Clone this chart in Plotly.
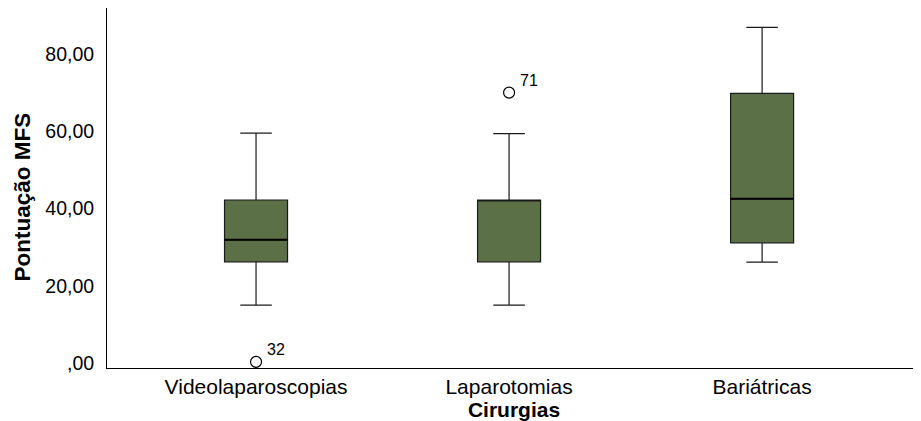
import plotly.graph_objects as go

categories = ["Videolaparoscopias", "Laparotomias", "Bariátricas"]
lower_whisker = [15.0, 15.0, 26.1]
q1 = [26.2, 26.2, 31.1]
median = [31.9, 42.2, 42.5]
q3 = [42.2, 42.2, 69.8]
upper_whisker = [59.5, 59.4, 86.9]
outlier_cat = [0, 1]
outlier_val = [0.3, 70.0]
outlier_lab = ["32", "71"]
y_ticks = [0, 20, 40, 60, 80]
y_ticktext = [",00", "20,00", "40,00", "60,00", "80,00"]

fill = "#5b7046"
pos = list(range(len(categories)))
FONT = "Liberation Sans, Arial"
BW = 0.249

fig = go.Figure()
fig.add_trace(go.Box(
    x=pos, q1=q1, median=median, q3=q3,
    lowerfence=lower_whisker, upperfence=upper_whisker,
    fillcolor=fill, line=dict(color="#1a1a1a", width=1.2),
    width=BW, whiskerwidth=0.5, boxpoints=False, showlegend=False,
    hoverinfo="skip",
))
for i, m in enumerate(median):
    if m == q1[i] or m == q3[i]:
        continue  # median coincides with a hinge: not drawn separately
    fig.add_trace(go.Scatter(
        x=[pos[i] - BW / 2, pos[i] + BW / 2], y=[m, m], mode="lines",
        line=dict(color="black", width=2), showlegend=False, hoverinfo="skip",
    ))
fig.add_trace(go.Scatter(
    x=outlier_cat, y=outlier_val, mode="markers",
    marker=dict(symbol="circle-open", size=11, color="black", line=dict(width=1.2)),
    showlegend=False, hoverinfo="skip", cliponaxis=False,
))
for cx, cy, lab in zip(outlier_cat, outlier_val, outlier_lab):
    fig.add_annotation(
        x=cx, y=cy, text=lab, showarrow=False, xanchor="left", yanchor="middle",
        xshift=9, yshift=12, font=dict(family=FONT, size=16, color="black"),
    )

fig.add_annotation(
    xref="paper", yref="paper", x=-0.105, y=0.475, text="<b>Pontuação MFS</b>",
    textangle=-90, showarrow=False, xanchor="center", yanchor="middle",
    font=dict(family=FONT, size=22.5, color="black"),
)

fig.update_layout(
    width=913, height=413,
    margin=dict(l=99, r=0, t=0, b=53),
    paper_bgcolor="white", plot_bgcolor="white",
    font=dict(family=FONT, size=20, color="black"),
    xaxis=dict(
        range=[-0.589, 2.628], tickvals=pos, ticktext=categories,
        showgrid=False, zeroline=False, showline=True, linecolor="black",
        linewidth=1, ticks="", tickfont=dict(size=21),
        title=dict(text="<b>Cirurgias</b>", font=dict(size=21), standoff=0),
    ),
    yaxis=dict(
        range=[-1.29, 91.9], tickvals=y_ticks, ticktext=y_ticktext,
        showgrid=False, zeroline=False, showline=True, linecolor="black",
        linewidth=1, ticks="outside", ticklen=8, tickcolor="rgba(0,0,0,0)",
        tickfont=dict(size=19.5),
    ),
)

fig.write_html("out.html")
